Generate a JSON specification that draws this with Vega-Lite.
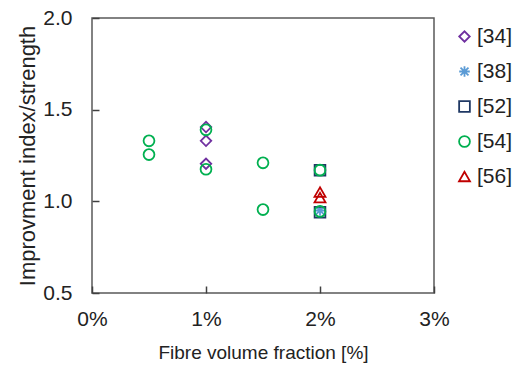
{
  "$schema": "https://vega.github.io/schema/vega-lite/v6.json",
  "width": 342,
  "height": 275,
  "autosize": {"type": "none"},
  "padding": {"left": 92, "top": 18, "right": 88, "bottom": 77},
  "background": "white",
  "config": {
    "font": "Liberation Sans",
    "view": {"stroke": "#595959", "strokeWidth": 1.5},
    "axis": {"grid": false, "ticks": true, "domain": false, "offset": -7, "tickSize": 7, "tickColor": "#404040", "tickWidth": 1.5, "labelFontSize": 21, "titleFontSize": 19, "labelColor": "#222", "titleColor": "#222", "titleFontWeight": "normal", "labelFlush": false}
  },
  "data": {
    "values": [
      {"ref": "[34]", "x": 0.01, "y": 1.405},
      {"ref": "[34]", "x": 0.01, "y": 1.33},
      {"ref": "[34]", "x": 0.01, "y": 1.205},
      {"ref": "[38]", "x": 0.02, "y": 0.95},
      {"ref": "[52]", "x": 0.02, "y": 1.17},
      {"ref": "[52]", "x": 0.02, "y": 0.94},
      {"ref": "[54]", "x": 0.005, "y": 1.33},
      {"ref": "[54]", "x": 0.005, "y": 1.255},
      {"ref": "[54]", "x": 0.01, "y": 1.39},
      {"ref": "[54]", "x": 0.01, "y": 1.175},
      {"ref": "[54]", "x": 0.015, "y": 1.21},
      {"ref": "[54]", "x": 0.015, "y": 0.955},
      {"ref": "[54]", "x": 0.02, "y": 1.17},
      {"ref": "[54]", "x": 0.02, "y": 0.945},
      {"ref": "[56]", "x": 0.02, "y": 1.05},
      {"ref": "[56]", "x": 0.02, "y": 1.02}
    ]
  },
  "mark": {"type": "point", "filled": false, "strokeWidth": 1.8, "opacity": 1},
  "encoding": {
    "x": {"field": "x", "type": "quantitative", "scale": {"domain": [0, 0.03], "nice": false}, "axis": {"values": [0, 0.01, 0.02, 0.03], "format": ".0%", "title": "Fibre volume fraction [%]", "labelPadding": 15, "titlePadding": 14}},
    "y": {"field": "y", "type": "quantitative", "scale": {"domain": [0.5, 2], "nice": false, "zero": false}, "axis": {"values": [0.5, 1, 1.5, 2], "format": ".1f", "title": "Improvment index/strength", "titleFontSize": 22, "labelPadding": 20, "titlePadding": 3}},
    "color": {"field": "ref", "type": "nominal", "scale": {"domain": ["[34]", "[38]", "[52]", "[54]", "[56]"], "range": ["#7030A0", "#5B9BD5", "#1F3864", "#00B050", "#C00000"]},
      "legend": {"title": null, "orient": "none", "legendX": 362, "legendY": 8, "labelFontSize": 21, "labelColor": "#222", "rowPadding": 13, "symbolStrokeWidth": 1.8, "labelOffset": 2}},
    "shape": {"field": "ref", "type": "nominal", "scale": {"domain": ["[34]", "[38]", "[52]", "[54]", "[56]"], "range": ["diamond", "M-1,0L1,0M0,-1L0,1M-0.75,-0.75L0.75,0.75M-0.75,0.75L0.75,-0.75", "square", "circle", "triangle-up"]}},
    "size": {"field": "ref", "type": "nominal", "scale": {"domain": ["[34]", "[38]", "[52]", "[54]", "[56]"], "range": [110, 120, 150, 170, 120]}, "legend": null}
  }
}
